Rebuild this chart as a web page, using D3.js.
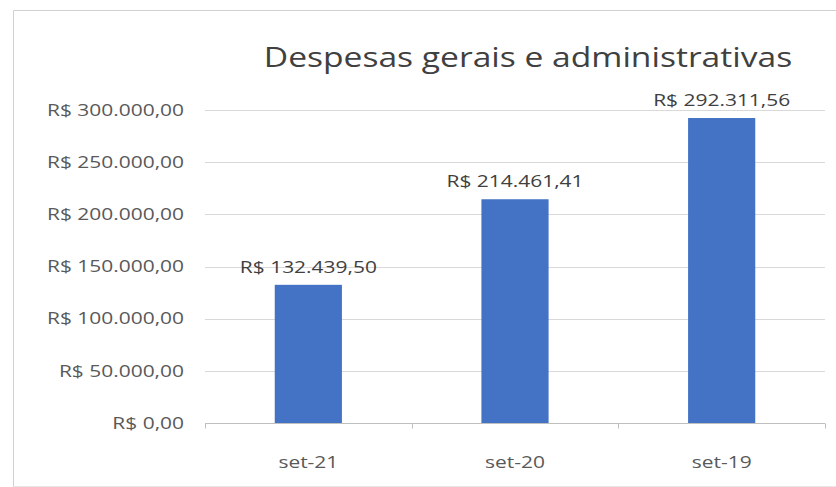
<!DOCTYPE html>
<html>
<head>
<meta charset="utf-8">
<script src="https://cdn.jsdelivr.net/npm/d3@7"></script>
<style>
  body { margin: 0; background: #fff; }
  svg { display: block; }
</style>
</head>
<body>
<svg id="chart" width="836" height="487"></svg>
<script>
const categories = ["set-21", "set-20", "set-19"];
const values = [132439.50, 214461.41, 292311.56];
const yTicks = [0, 50000, 100000, 150000, 200000, 250000, 300000];
const title = "Despesas gerais e administrativas";

const svg = d3.select("#chart");
const font = "'Open Sans', 'Noto Sans', sans-serif";
const stretch = 1.27; // the source picture is wider than tall

const margin = { left: 205, right: 11, top: 110, bottom: 64 };
const width = +svg.attr("width");
const height = +svg.attr("height");

// R$ format, pt-BR style
const brl = d3.formatLocale({
  decimal: ",",
  thousands: ".",
  grouping: [3],
  currency: ["R$ ", ""]
}).format("$,.2f");

// chart frame (cropped on the right)
svg.append("path")
  .attr("d", `M13.5,${height} V10.5 H${width}`)
  .attr("fill", "none")
  .attr("stroke", "#d0d0d0")
  .attr("stroke-width", 1);
svg.append("line")
  .attr("x1", 13).attr("x2", width)
  .attr("y1", 486.5).attr("y2", 486.5)
  .attr("stroke", "#e6e6e6");

const x = d3.scaleBand()
  .domain(categories)
  .range([margin.left, width - margin.right])
  .paddingInner(0.675)
  .paddingOuter(0.3375);

const y = d3.scaleLinear()
  .domain([0, 300000])
  .range([height - margin.bottom, margin.top]);

// gridlines
svg.append("g")
  .selectAll("line")
  .data(yTicks.slice(1))
  .join("line")
  .attr("x1", margin.left)
  .attr("x2", width - margin.right)
  .attr("y1", d => Math.round(y(d)) + 0.5)
  .attr("y2", d => Math.round(y(d)) + 0.5)
  .attr("stroke", "#d9d9d9")
  .attr("stroke-width", 1);

// y axis labels
svg.append("g")
  .selectAll("text")
  .data(yTicks)
  .join("text")
  .attr("transform", d => `translate(184,${y(d)}) scale(${stretch},1)`)
  .attr("dy", "0.35em")
  .attr("text-anchor", "end")
  .style("font-family", font)
  .style("font-size", "16.5px")
  .style("fill", "#595959")
  .text(d => brl(d));

// bars
svg.append("g")
  .selectAll("rect")
  .data(values)
  .join("rect")
  .attr("x", (d, i) => x(categories[i]))
  .attr("y", d => y(d))
  .attr("width", x.bandwidth())
  .attr("height", d => y(0) - y(d))
  .attr("fill", "#4472c4");

// x axis line and ticks
const x0 = margin.left, x1 = width - margin.right;
const base = Math.round(y(0)) + 0.5;
svg.append("line")
  .attr("x1", x0).attr("x2", x1)
  .attr("y1", base).attr("y2", base)
  .attr("stroke", "#bfbfbf");
svg.append("g")
  .selectAll("line")
  .data(d3.range(categories.length + 1))
  .join("line")
  .attr("x1", i => Math.round(x0 + i * x.step()) + 0.5)
  .attr("x2", i => Math.round(x0 + i * x.step()) + 0.5)
  .attr("y1", base)
  .attr("y2", base + 5)
  .attr("stroke", "#bfbfbf");

// category labels
svg.append("g")
  .selectAll("text")
  .data(categories)
  .join("text")
  .attr("transform", d => `translate(${x(d) + x.bandwidth() / 2},468) scale(${stretch},1)`)
  .attr("text-anchor", "middle")
  .style("font-family", font)
  .style("font-size", "16.5px")
  .style("fill", "#595959")
  .text(d => d);

// data labels
svg.append("g")
  .selectAll("text")
  .data(values)
  .join("text")
  .attr("transform", (d, i) => `translate(${x(categories[i]) + x.bandwidth() / 2},${y(d) - 12}) scale(${stretch},1)`)
  .attr("text-anchor", "middle")
  .style("font-family", font)
  .style("font-size", "16.5px")
  .style("fill", "#404040")
  .text(d => brl(d));

// title
svg.append("text")
  .attr("transform", `translate(528,67) scale(1.2,1)`)
  .attr("text-anchor", "middle")
  .style("font-family", font)
  .style("font-size", "28px")
  .style("font-weight", 400)
  .style("fill", "#404040")
  .text(title);
</script>
</body>
</html>
